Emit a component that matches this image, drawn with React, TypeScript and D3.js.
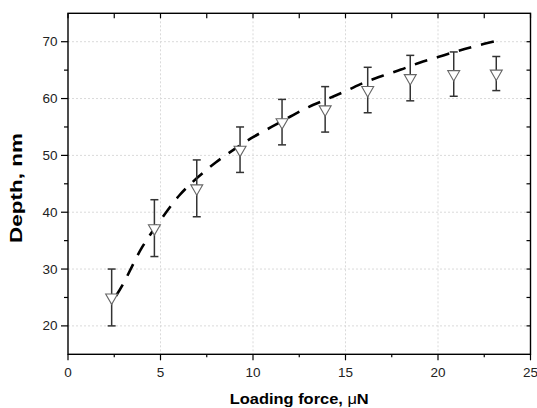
import React from "react";
import * as d3 from "d3";

const force = [2.36, 4.67, 6.96, 9.3, 11.57, 13.9, 16.2, 18.5, 20.85, 23.15];
const depth = [25, 37.2, 44.2, 51, 55.85, 58.1, 61.5, 63.6, 64.3, 64.4];
const depthErr = [5, 5, 5, 4, 4, 4, 4, 4, 3.9, 3];

const fitForce = [2.6, 3, 4, 5, 6, 7, 8, 9, 10, 11, 12, 13, 14, 15, 16, 17, 18, 19, 20, 21, 22, 23.2];
const fitDepth = [25.3, 27.5, 33.8, 38.6, 42.9, 46.1, 48.8, 51.1, 53.2, 55.0, 56.8, 58.5, 59.9, 61.3, 62.8, 64.0, 65.1, 66.3, 67.3, 68.3, 69.2, 70.2];

const xTicks = [0, 5, 10, 15, 20, 25];
const xMinor = [2.5, 7.5, 12.5, 17.5, 22.5];
const yTicks = [20, 30, 40, 50, 60, 70];
const yMinor = [25, 35, 45, 55, 65];
const xGrid = [5, 10, 15, 20];

const W = 537;
const H = 408;
const L = 68, R = 530.5, T = 13.3, B = 354.3;

export default function App() {
  const x = d3.scaleLinear().domain([0, 25]).range([L, R]);
  const y = d3.scaleLinear().domain([15, 75]).range([B, T]);

  const line = d3
    .line<number>()
    .x((_, i) => x(fitForce[i]))
    .y((d) => y(d))
    .curve(d3.curveCatmullRom);

  const tri = d3.symbol().type(d3.symbolTriangle).size(62)();
  const font = "'Liberation Sans', Arial, sans-serif";

  return (
    <svg
      width={W}
      height={H}
      style={{ position: "absolute", left: 0, top: 0, background: "#fff" }}
      fontFamily={font}
    >
      <rect x={0} y={0} width={W} height={H} fill="#fff" />
      {/* grid */}
      <g stroke="#dadada" strokeWidth={1} strokeDasharray="2,2">
        {xGrid.map((v) => (
          <line key={"gx" + v} x1={x(v)} x2={x(v)} y1={T} y2={B} />
        ))}
        {yTicks.map((v) => (
          <line key={"gy" + v} x1={L} x2={R} y1={y(v)} y2={y(v)} />
        ))}
      </g>

      {/* fit curve */}
      <path
        d={line(fitDepth) || ""}
        fill="none"
        stroke="#000"
        strokeWidth={2.6}
        strokeDasharray="13 10"
      />

      {/* error bars */}
      <g stroke="#333" strokeWidth={1.5}>
        {force.map((f, i) => {
          const cx = x(f);
          const top = y(depth[i] + depthErr[i]);
          const bot = y(depth[i] - depthErr[i]);
          return (
            <g key={"e" + i}>
              <line x1={cx} x2={cx} y1={top} y2={bot} />
              <line x1={cx - 4} x2={cx + 4} y1={top} y2={top} />
              <line x1={cx - 4} x2={cx + 4} y1={bot} y2={bot} />
            </g>
          );
        })}
      </g>

      {/* markers */}
      {force.map((f, i) => (
        <path
          key={"m" + i}
          d={tri || ""}
          transform={`translate(${x(f)},${y(depth[i])}) rotate(180)`}
          fill="#fff"
          stroke="#666"
          strokeWidth={1.1}
        />
      ))}

      {/* frame */}
      <rect x={L} y={T} width={R - L} height={B - T} fill="none" stroke="#000" strokeWidth={1.4} />

      {/* ticks */}
      <g stroke="#000" strokeWidth={1.2}>
        {yTicks.map((v) => (
          <line key={"ly" + v} x1={L - 7} x2={L} y1={y(v)} y2={y(v)} />
        ))}
        {yMinor.map((v) => (
          <line key={"lym" + v} x1={L - 4} x2={L} y1={y(v)} y2={y(v)} />
        ))}
        {xTicks.map((v) => (
          <line key={"bx" + v} x1={x(v)} x2={x(v)} y1={B} y2={B + 6} />
        ))}
        {xMinor.map((v) => (
          <line key={"bxm" + v} x1={x(v)} x2={x(v)} y1={B} y2={B + 3} />
        ))}
        {[...xTicks, ...xMinor].map((v) => (
          <line key={"tx" + v} x1={x(v)} x2={x(v)} y1={T} y2={T + 5} />
        ))}
        {[20, 25, 30, 35, 40, 45, 50, 55, 60, 65, 70].map((v) => (
          <line key={"ry" + v} x1={R - 4} x2={R} y1={y(v)} y2={y(v)} />
        ))}
      </g>

      {/* tick labels */}
      <g fontSize={13.5} fill="#222">
        {yTicks.map((v) => (
          <text key={"tl" + v} x={L - 10.5} y={y(v)} textAnchor="end" dominantBaseline="central">
            {v}
          </text>
        ))}
        {xTicks.map((v) => (
          <text key={"xl" + v} x={x(v)} y={376.8} textAnchor="middle">
            {v}
          </text>
        ))}
      </g>

      {/* titles */}
      <text
        x={(L + R) / 2}
        y={404}
        textAnchor="middle"
        fontSize={15.5}
        fontWeight="bold"
        fill="#000"
        textLength={139}
        lengthAdjust="spacingAndGlyphs"
      >
        Loading force, <tspan fontWeight="normal">μ</tspan>N
      </text>
      <text
        transform={`translate(21.5,188) rotate(-90)`}
        textAnchor="middle"
        fontSize={16.5}
        fontWeight="bold"
        fill="#000"
        textLength={110}
        lengthAdjust="spacingAndGlyphs"
      >
        Depth, nm
      </text>
    </svg>
  );
}
